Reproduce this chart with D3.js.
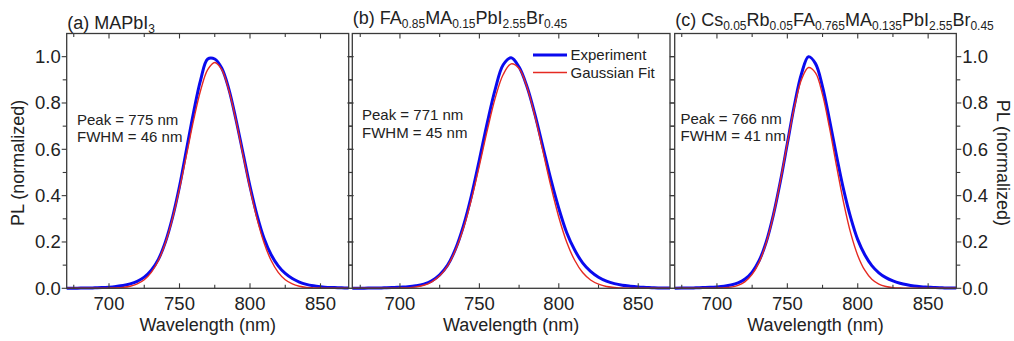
<!DOCTYPE html>
<html>
<head>
<meta charset="utf-8">
<script src="https://cdn.jsdelivr.net/npm/d3@7"></script>
<style>
  html, body { margin: 0; padding: 0; background: #ffffff; }
  svg { display: block; font-family: "Liberation Sans", Arial, sans-serif; }
</style>
</head>
<body>
<svg id="chart" width="1014" height="341"></svg>
<script>
// ---------------- data ----------------
const wavelengths = [670,675,680,685,690,695,700,705,710,715,720,725,730,735,740,745,750,755,760,765,
  770,775,780,785,790,795,800,805,810,815,820,825,830,835,840,845,850,855,860,865,870];

const expA = [0,0,0.001,0.001,0.002,0.003,0.005,0.008,0.012,0.019,0.030,0.048,0.078,0.125,0.200,0.305,
  0.440,0.600,0.760,0.900,0.990,0.990,0.950,0.860,0.730,0.585,0.440,0.315,0.215,0.145,0.097,0.064,
  0.042,0.027,0.017,0.011,0.007,0.004,0.003,0.002,0.001];
const fitA = [0,0,0,0,0,0,0.001,0.002,0.004,0.009,0.019,0.037,0.069,0.120,0.196,0.300,0.430,0.577,
  0.726,0.855,0.944,0.975,0.944,0.855,0.726,0.577,0.430,0.300,0.196,0.120,0.069,0.037,0.019,0.009,
  0.004,0.002,0.001,0,0,0,0];

const expB = [0,0,0.001,0.001,0.002,0.003,0.005,0.007,0.011,0.018,0.032,0.058,0.100,0.170,0.270,0.400,
  0.555,0.715,0.860,0.965,0.995,0.955,0.870,0.750,0.610,0.470,0.345,0.240,0.165,0.110,0.073,0.048,
  0.031,0.020,0.013,0.009,0.006,0.004,0.002,0.001,0.001];
const fitB = [0,0,0,0,0,0,0.001,0.002,0.006,0.013,0.028,0.054,0.097,0.165,0.260,0.384,0.530,0.683,
  0.822,0.923,0.969,0.949,0.868,0.742,0.592,0.441,0.307,0.199,0.121,0.068,0.036,0.018,0.008,0.004,
  0.001,0,0,0,0,0,0];

const expC = [0,0.001,0.001,0.002,0.003,0.004,0.006,0.009,0.014,0.023,0.040,0.070,0.120,0.200,0.315,
  0.460,0.625,0.790,0.925,1.000,0.970,0.870,0.725,0.570,0.425,0.305,0.210,0.145,0.098,0.067,0.046,
  0.032,0.022,0.015,0.010,0.007,0.005,0.003,0.002,0.001,0.001];
const fitC = [0,0,0,0,0,0,0.001,0.002,0.005,0.013,0.029,0.060,0.113,0.196,0.313,0.461,0.626,0.782,
  0.900,0.953,0.930,0.836,0.691,0.526,0.369,0.238,0.142,0.078,0.039,0.018,0.008,0.003,0.001,0,0,0,
  0,0,0,0,0];

// titles as [text, isSubscript] segments
const titleA = [["(a) MAPbI",0],["3",1]];
const titleB = [["(b) FA",0],["0.85",1],["MA",0],["0.15",1],["PbI",0],["2.55",1],["Br",0],["0.45",1]];
const titleC = [["(c) Cs",0],["0.05",1],["Rb",0],["0.05",1],["FA",0],["0.765",1],["MA",0],["0.135",1],
  ["PbI",0],["2.55",1],["Br",0],["0.45",1]];

const peakLabels = ["Peak = 775 nm","Peak = 771 nm","Peak = 766 nm"];
const fwhmLabels = ["FWHM = 46 nm","FWHM = 45 nm","FWHM = 41 nm"];
const seriesNames = ["Experiment","Gaussian Fit"];

const xTicks = [700,750,800,850];
const xMinorTicks = [675,725,775,825];
const yTicks = [0,0.2,0.4,0.6,0.8,1.0];
const yMinorTicks = [0.1,0.3,0.5,0.7,0.9];
const xDomain = [670,870];
const yDomain = [0,1.1];
const xTitle = "Wavelength (nm)";
const yTitle = "PL (normalized)";

// ---------------- layout ----------------
const colors = { exp: "#0a0aee", fit: "#e52a22", frame: "#3a3a3a", text: "#222" };
const plotTop = 33.5, plotBottom = 288.3;
const tickFont = 18.5;
const panels = [
  { left: 66.7, right: 348.7, exp: expA, fit: fitA, title: titleA, titleY: 29, leftAxis: true,
    ann: { x: 77, y1: 124.5, y2: 141.5 } },
  { left: 352.3, right: 670.0, exp: expB, fit: fitB, title: titleB, titleY: 24, legend: true,
    ann: { x: 362, y1: 120, y2: 137.5 } },
  { left: 674.7, right: 956.3, exp: expC, fit: fitC, title: titleC, titleY: 26, rightAxis: true,
    ann: { x: 680.5, y1: 123.5, y2: 141 } }
];

const svg = d3.select("#chart");
svg.append("rect").attr("width",1014).attr("height",341).attr("fill","#ffffff");

const y = d3.scaleLinear().domain(yDomain).range([plotBottom, plotTop]);

panels.forEach((p, i) => {
  const x = d3.scaleLinear().domain(xDomain).range([p.left, p.right]);
  const g = svg.append("g");

  // curves
  const line = d3.line()
    .x((d, k) => x(wavelengths[k]))
    .y(d => y(d))
    .curve(d3.curveCatmullRom.alpha(0.5));
  g.append("path").datum(p.exp).attr("d", line)
    .attr("fill","none").attr("stroke",colors.exp).attr("stroke-width",3)
    .attr("stroke-linejoin","round");
  g.append("path").datum(p.fit).attr("d", line)
    .attr("fill","none").attr("stroke",colors.fit).attr("stroke-width",1.4)
    .attr("stroke-linejoin","round");

  // frame
  g.append("rect").attr("x",p.left).attr("y",plotTop)
    .attr("width",p.right-p.left).attr("height",plotBottom-plotTop)
    .attr("fill","none").attr("stroke",colors.frame).attr("stroke-width",1.3);

  // x ticks (inside, top & bottom)
  const xt = xTicks.map(v => ({v, len: 5})).concat(xMinorTicks.map(v => ({v, len: 3.5})));
  xt.forEach(t => {
    g.append("line").attr("x1",x(t.v)).attr("x2",x(t.v)).attr("y1",plotBottom).attr("y2",plotBottom-t.len)
      .attr("stroke",colors.frame).attr("stroke-width",1.1);
    g.append("line").attr("x1",x(t.v)).attr("x2",x(t.v)).attr("y1",plotTop).attr("y2",plotTop+t.len)
      .attr("stroke",colors.frame).attr("stroke-width",1.1);
  });
  // y ticks (outside, both sides)
  const yt = yTicks.map(v => ({v, len: 5})).concat(yMinorTicks.map(v => ({v, len: 4})));
  yt.forEach(t => {
    g.append("line").attr("x1",p.left).attr("x2",p.left-t.len).attr("y1",y(t.v)).attr("y2",y(t.v))
      .attr("stroke",colors.frame).attr("stroke-width",1.1);
    g.append("line").attr("x1",p.right).attr("x2",p.right+t.len).attr("y1",y(t.v)).attr("y2",y(t.v))
      .attr("stroke",colors.frame).attr("stroke-width",1.1);
  });

  // x tick labels
  xTicks.forEach(v => {
    g.append("text").attr("x",x(v)).attr("y",310).attr("text-anchor","middle")
      .attr("font-size",tickFont).attr("fill",colors.text).text(v);
  });
  // x title
  g.append("text").attr("x",(p.left+p.right)/2).attr("y",331).attr("text-anchor","middle")
    .attr("font-size",18).attr("fill",colors.text).text(xTitle);

  // y labels
  if (p.leftAxis) {
    yTicks.forEach(v => {
      g.append("text").attr("x",p.left-6).attr("y",y(v)+6.5).attr("text-anchor","end")
        .attr("font-size",tickFont).attr("fill",colors.text).text(d3.format(".1f")(v));
    });
    g.append("text").attr("transform",`translate(24,${(plotTop+plotBottom)/2+2}) rotate(-90)`)
      .attr("text-anchor","middle").attr("font-size",18).attr("fill",colors.text).text(yTitle);
  }
  if (p.rightAxis) {
    yTicks.forEach(v => {
      g.append("text").attr("x",p.right+6).attr("y",y(v)+6.5).attr("text-anchor","start")
        .attr("font-size",tickFont).attr("fill",colors.text).text(d3.format(".1f")(v));
    });
    g.append("text").attr("transform",`translate(997,${(plotTop+plotBottom)/2+2}) rotate(90)`)
      .attr("text-anchor","middle").attr("font-size",18).attr("fill",colors.text).text(yTitle);
  }

  // title with subscripts
  const tt = g.append("text").attr("x",p.left+0.5).attr("y",p.titleY)
    .attr("font-size",18).attr("fill",colors.text);
  let prevSub = false;
  p.title.forEach(([s, sub]) => {
    const dy = sub ? (prevSub ? 0 : 4) : (prevSub ? -4 : 0);
    tt.append("tspan").attr("font-size", sub ? 12 : 18).attr("dy", dy).text(s);
    prevSub = !!sub;
  });

  // annotations
  g.append("text").attr("x",p.ann.x).attr("y",p.ann.y1).attr("font-size",15)
    .attr("fill",colors.text).text(peakLabels[i]);
  g.append("text").attr("x",p.ann.x).attr("y",p.ann.y2).attr("font-size",15)
    .attr("fill",colors.text).text(fwhmLabels[i]);

  // legend
  if (p.legend) {
    const lg = [[colors.exp, 3, 55], [colors.fit, 1.4, 72.5]];
    lg.forEach(([c, w, ly], k) => {
      g.append("line").attr("x1",533).attr("x2",567).attr("y1",ly).attr("y2",ly)
        .attr("stroke",c).attr("stroke-width",w);
      g.append("text").attr("x",570.5).attr("y",ly+5.3).attr("font-size",15)
        .attr("fill",colors.text).text(seriesNames[k]);
    });
  }
});
</script>
</body>
</html>
